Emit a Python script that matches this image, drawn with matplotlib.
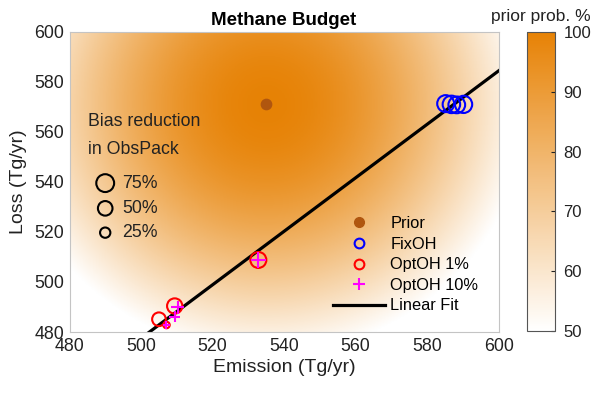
import numpy as np
import matplotlib
matplotlib.use('Agg')
import matplotlib.pyplot as plt
from matplotlib.colors import LinearSegmentedColormap
from matplotlib.lines import Line2D

plt.rcParams['font.family'] = ['Liberation Sans', 'DejaVu Sans']

#-----------------
# DATA
#-----------------
prior_x = [535.0]
prior_y = [571.0]

fix_x = [585.2, 586.8, 588.3, 590.2]
fix_y = [571.3, 571.0, 570.8, 571.0]
fix_bias = [68, 72, 66, 70]

opt1_x = [532.8, 505.0, 509.4, 507.1]
opt1_y = [508.8, 485.1, 490.4, 482.8]
opt1_bias = [60, 44, 55, 10]

opt10_x = [532.8, 510.3, 509.4, 507.1]
opt10_y = [508.8, 489.9, 486.1, 482.8]
opt10_bias = [58, 40, 30, 12]

# linear fit (slope, intercept)
fit_coef = [1.069, -57.0]

# prior distribution spread (Tg/yr), centred on the prior point
prior_sx = 62.0
prior_sy = 85.0

key_bias = [75, 50, 25]
key_labels = ['75%', '50%', '25%']

cbar_ticks = [50, 60, 70, 80, 90, 100]

# marker area per % of bias reduction
s_per_pct = 2.2

#-----------------
# FIGURE
#-----------------
fig = plt.figure(figsize=(6.0, 3.96), dpi=100)
ax = fig.add_axes([0.116, 0.1616, 0.715, 0.758])
cax = fig.add_axes([0.878, 0.164, 0.047, 0.755])

cmap = LinearSegmentedColormap.from_list('wo', [(1, 1, 1), (0.905, 0.51, 0.02)])
cmap.set_under('white')

gx = np.linspace(480, 600, 300)
gy = np.linspace(480, 600, 300)
GX, GY = np.meshgrid(gx, gy)
prob = 100 * np.exp(-0.5 * (((GX - prior_x[0]) / prior_sx) ** 2 + ((GY - prior_y[0]) / prior_sy) ** 2))
im = ax.imshow(prob, extent=[480, 600, 480, 600], origin='lower', aspect='auto',
               cmap=cmap, vmin=50, vmax=100, interpolation='bilinear', zorder=0)

# linear fit
lx = np.array([480, 600])
ax.plot(lx, fit_coef[0] * lx + fit_coef[1], color='black', lw=2.3, zorder=2)

ax.scatter(prior_x, prior_y, s=55, color='#b0560f', zorder=3)
ax.scatter(fix_x, fix_y, s=np.array(fix_bias) * s_per_pct, facecolors='none',
           edgecolors='#0000ff', linewidths=1.5, zorder=3)
ax.scatter(opt1_x, opt1_y, s=np.array(opt1_bias) * s_per_pct, facecolors='none',
           edgecolors='#ff0000', linewidths=1.5, zorder=3)
ax.scatter(opt10_x, opt10_y, s=np.array(opt10_bias) * s_per_pct, marker='+',
           color='#ff00ff', linewidths=1.5, zorder=4)

ax.set_xlim(480, 600)
ax.set_ylim(480, 600)
ax.set_xticks([480, 500, 520, 540, 560, 580, 600])
ax.set_yticks([480, 500, 520, 540, 560, 580, 600])
ax.tick_params(length=0, labelsize=12.8, pad=4, colors='#222222')
for sp in ax.spines.values():
    sp.set_color('#c4c4c4')
    sp.set_linewidth(0.8)
ax.set_xlabel('Emission (Tg/yr)', fontsize=14, color='#222222', labelpad=3)
ax.set_ylabel('Loss (Tg/yr)', fontsize=14, color='#222222', labelpad=5)
ax.set_title('Methane Budget', fontsize=13.5, fontweight='bold', pad=5)

# size key
ax.text(0.043, 0.70, 'Bias reduction', transform=ax.transAxes, fontsize=12.8,
        va='center', color='#222222')
ax.text(0.043, 0.607, 'in ObsPack', transform=ax.transAxes, fontsize=12.8,
        va='center', color='#222222')
key_y = [0.496, 0.412, 0.331]
for b, lab, yy in zip(key_bias, key_labels, key_y):
    ax.scatter([0.083], [yy], s=b * s_per_pct, facecolors='none', edgecolors='black',
               linewidths=1.5, transform=ax.transAxes, zorder=3)
    ax.text(0.123, yy, lab, transform=ax.transAxes, fontsize=12.8, va='center',
            color='#222222')

handles = [
    Line2D([], [], marker='o', ls='none', color='#b0560f', markersize=7),
    Line2D([], [], marker='o', ls='none', mfc='none', mec='#0000ff', mew=1.5, markersize=7),
    Line2D([], [], marker='o', ls='none', mfc='none', mec='#ff0000', mew=1.5, markersize=7),
    Line2D([], [], marker='+', ls='none', color='#ff00ff', mew=1.5, markersize=8),
    Line2D([], [], color='black', lw=2.3),
]
labels = ['Prior', 'FixOH', 'OptOH 1%', 'OptOH 10%', 'Linear Fit']
ax.legend(handles, labels, loc='lower left', bbox_to_anchor=(0.614, 0.062),
          frameon=False, fontsize=11.8, handlelength=3.2, handletextpad=0.3,
          labelspacing=0.34, borderpad=0, borderaxespad=0)

cb = fig.colorbar(im, cax=cax, ticks=cbar_ticks)
cb.outline.set_edgecolor('#555555')
cb.outline.set_linewidth(0.8)
cb.ax.tick_params(labelsize=12, direction='in', length=3, colors='#222222', pad=6)
cax.set_title('prior prob. %', fontsize=12.5, pad=8, color='#222222')

fig.savefig('out.png', dpi=100)
